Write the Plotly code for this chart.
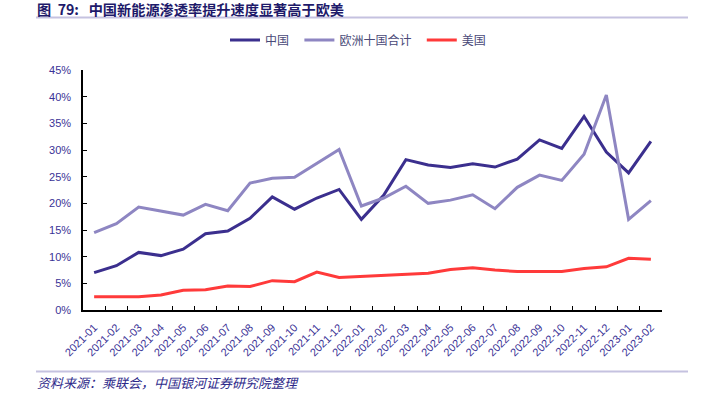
import plotly.graph_objects as go

months = ["2021-01","2021-02","2021-03","2021-04","2021-05","2021-06","2021-07","2021-08",
          "2021-09","2021-10","2021-11","2021-12","2022-01","2022-02","2022-03","2022-04",
          "2022-05","2022-06","2022-07","2022-08","2022-09","2022-10","2022-11","2022-12",
          "2023-01","2023-02"]
china = [7.0, 8.3, 10.8, 10.2, 11.4, 14.3, 14.8, 17.2, 21.2, 18.9, 21.0, 22.6, 17.0, 21.5,
         28.2, 27.2, 26.7, 27.4, 26.8, 28.3, 31.9, 30.3, 36.3, 29.6, 25.7, 31.6]
europe = [14.5, 16.2, 19.3, 18.5, 17.8, 19.8, 18.6, 23.8, 24.7, 24.9, 27.5, 30.1, 19.5, 21.0,
          23.2, 20.0, 20.6, 21.6, 19.0, 23.0, 25.3, 24.3, 29.2, 40.3, 17.0, 20.5]
usa = [2.5, 2.5, 2.5, 2.8, 3.7, 3.8, 4.5, 4.4, 5.5, 5.3, 7.1, 6.1, 6.3, 6.6, 6.7, 6.9,
       7.6, 7.9, 7.5, 7.2, 7.2, 7.2, 7.8, 8.1, 9.7, 9.5]
yticks = [0, 5, 10, 15, 20, 25, 30, 35, 40, 45]

NB = "\u00a0"
series = [("中国" + NB * 2, china, "#3B2F8E"),
          ("欧洲十国合计" + NB * 2, europe, "#8E86C2"),
          ("美国", usa, "#FF3A3A")]

fig = go.Figure()
for name, vals, col in series:
    fig.add_trace(go.Scatter(x=months, y=vals, name=name, mode="lines",
                             line=dict(color=col, width=3)))

tickcol = "#3A3296"
fig.update_layout(
    width=704, height=397,
    margin=dict(l=83, r=42, t=70, b=87),
    paper_bgcolor="white", plot_bgcolor="white",
    font=dict(family="Liberation Sans, Arial, Noto Sans CJK SC", size=11, color=tickcol),
    showlegend=True,
    legend=dict(orientation="h", x=(225 - 83) / 579.0, xanchor="left", y=(310 - 40) / 240.0,
                yanchor="middle",
                font=dict(family="Noto Sans CJK SC", size=12, color="#4A4A78"),
                itemwidth=30, traceorder="normal"),
    xaxis=dict(type="category", showgrid=False, showline=True, linecolor="black", linewidth=1.5,
               ticks="inside", ticklen=4, tickcolor="black", tickson="boundaries",
               tickangle=-45, ticklabelstandoff=5,
               tickfont=dict(size=11, color=tickcol), range=[-0.5, 25.5]),
    yaxis=dict(range=[0, 45], tickvals=yticks, ticktext=[f"{v}%" for v in yticks],
               showgrid=False, showline=True, linecolor="black", linewidth=1.5,
               ticks="inside", ticklen=4, tickcolor="black", zeroline=False,
               ticklabelstandoff=8,
               tickfont=dict(size=11, color=tickcol)),
)

def px_x(px):
    return (px - 83) / 579.0

def px_y(py):
    return (310 - py) / 240.0

title = "图" + NB * 2 + "79:" + NB * 3 + "中国新能源渗透率提升速度显著高于欧美"
fig.add_annotation(text="<b>" + title + "</b>", xref="paper", yref="paper",
                   x=px_x(35), y=px_y(9.5), xanchor="left", yanchor="middle", showarrow=False,
                   font=dict(family="Noto Sans CJK SC", size=14.2, color="#1E1A6A"))
fig.add_shape(type="line", xref="paper", yref="paper", x0=px_x(36), x1=px_x(688),
              y0=px_y(17.5), y1=px_y(17.5), line=dict(color="#C5C2E0", width=2))
fig.add_shape(type="line", xref="paper", yref="paper", x0=px_x(36), x1=px_x(688),
              y0=px_y(371.5), y1=px_y(371.5), line=dict(color="#C5C2E0", width=2))
fig.add_annotation(text="资料来源：乘联会，中国银河证券研究院整理", xref="paper", yref="paper",
                   x=px_x(35), y=px_y(382), xanchor="left", yanchor="middle", showarrow=False,
                   font=dict(family="Noto Sans CJK SC", size=13, color="#2E2A8A", style="italic"))

fig.write_html("out.html", config={"displayModeBar": False},
               post_script="document.body.style.margin='0';")
